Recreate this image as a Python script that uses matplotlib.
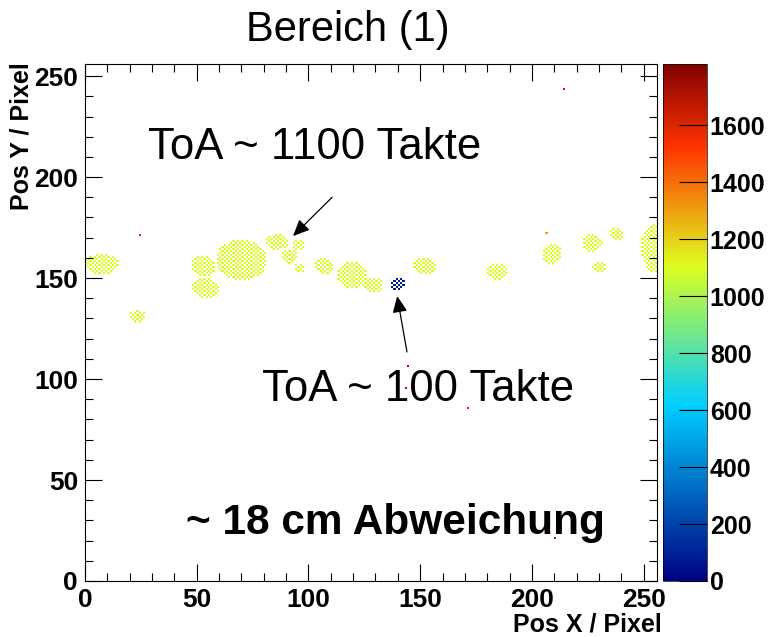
import numpy as np
import matplotlib
matplotlib.use("Agg")
import matplotlib.pyplot as plt
from matplotlib.colors import LinearSegmentedColormap
from matplotlib.ticker import MultipleLocator

plt.rcParams['font.family'] = ['Liberation Sans', 'DejaVu Sans']
plt.rcParams['font.weight'] = 'bold'

# Cluster (Ellipsen) im 256x256 Pixel-Detektor, ToA-Werte in Takten
cluster_x = [7.5, 23.5, 54, 53, 70, 86, 91.5, 95.5, 96, 107, 119.5, 129, 140, 152, 184.5, 209, 227, 238, 230, 255]
cluster_y = [157, 131, 145, 156, 159, 168, 161, 166.5, 155, 156, 151.5, 146.5, 147, 156, 153, 162, 167.5, 172, 155.5, 165]
cluster_rx = [7.5, 3.5, 6, 5.5, 11.5, 5, 4, 2.5, 2.5, 4, 6.5, 4.5, 3, 5, 4.5, 4.5, 4.5, 3.5, 3, 6]
cluster_ry = [5, 3, 5, 5.5, 10, 4, 3.5, 2.5, 2, 4, 6.5, 4, 3, 4.5, 4, 5, 4.5, 3, 2.5, 12]
cluster_toa = [1100, 1100, 1100, 1100, 1100, 1100, 1100, 1100, 1100, 1100, 1100, 1100, 100, 1100, 1100, 1100, 1100, 1100, 1100, 1100]

# Einzelne Treffer
hit_x = [24.5, 214, 144, 143.5, 171.5, 210.5, 206.8]
hit_y = [171, 243.5, 106, 95, 85, 21, 172]
hit_toa = [1600, 1650, 1700, 1700, 1650, 1650, 1300]

# Histogramm aufbauen (Schachbrettmuster innerhalb der Cluster)
n = 256
z = np.full((n, n), np.nan)
ii, jj = np.meshgrid(np.arange(n), np.arange(n))  # ii = x, jj = y
for cx, cy, rx, ry, t in zip(cluster_x, cluster_y, cluster_rx, cluster_ry, cluster_toa):
    inside = ((ii + 0.5 - cx) / rx) ** 2 + ((jj + 0.5 - cy) / ry) ** 2 <= 1
    mask = inside & ((ii + jj) % 2 == 0)
    z[mask] = t
for hx, hy, t in zip(hit_x, hit_y, hit_toa):
    z[int(hy), int(hx)] = t

# ROOT-Palette (kRainBow-aehnlich)
stops = [0.0, 0.34, 0.61, 0.84, 1.0]
red = [0.0, 0.0, 0.87, 1.0, 0.51]
green = [0.0, 0.81, 1.0, 0.20, 0.0]
blue = [0.51, 1.0, 0.12, 0.0, 0.0]
cmap = LinearSegmentedColormap.from_list(
    'root', [(s, (r, g, b)) for s, r, g, b in zip(stops, red, green, blue)], N=255)

W, H = 769, 637
fig = plt.figure(figsize=(W / 100, H / 100), dpi=100)
ax = fig.add_axes([85 / W, 56 / H, 572 / W, 517 / H])
cax = fig.add_axes([663 / W, 56 / H, 44 / W, 517 / H])

edges = np.arange(n + 1)
mesh = ax.pcolormesh(edges, edges, np.ma.masked_invalid(z), cmap=cmap, vmin=0, vmax=1815)
ax.set_xlim(0, 256)
ax.set_ylim(0, 256)

ax.xaxis.set_major_locator(MultipleLocator(50))
ax.xaxis.set_minor_locator(MultipleLocator(10))
ax.yaxis.set_major_locator(MultipleLocator(50))
ax.yaxis.set_minor_locator(MultipleLocator(10))
ax.tick_params(which='both', direction='in', top=True, right=True, width=0.8, labelsize=19, pad=5)
ax.tick_params(which='major', length=12)
ax.tick_params(which='minor', length=6)
for sp in ax.spines.values():
    sp.set_linewidth(0.8)

ax.set_xlabel('Pos X / Pixel', fontsize=18, loc='right', weight='bold')
ax.xaxis.set_label_coords((662 - 85) / 572, (581 - 613) / 517)
ax.set_ylabel('Pos Y / Pixel', fontsize=18, loc='top', weight='bold')
ax.yaxis.set_label_coords((34 - 85) / 572, (581 - 62) / 517)

cb = fig.colorbar(mesh, cax=cax)
cb.set_ticks(np.arange(0, 1601, 200))
cb.outline.set_linewidth(0.5)
cax.tick_params(direction='in', length=20, width=0.8, labelsize=18, pad=2)

fig.text(348 / W, 1 - 30 / H, 'Bereich (1)', ha='center', va='center', fontsize=30, weight='normal')

ax.text(28.2, 214.9, 'ToA ~ 1100 Takte', ha='left', va='center', fontsize=31.5, weight='normal')
ax.text(79.2, 95, 'ToA ~ 100 Takte', ha='left', va='center', fontsize=31.5, weight='normal')
ax.text(45.2, 28.7, '~ 18 cm Abweichung', ha='left', va='center', fontsize=30.5, weight='bold')

arrow = dict(arrowstyle='-|>,head_length=1.0,head_width=0.45', color='black', lw=0.9, shrinkA=0, shrinkB=0)
ax.annotate('', xy=(93.1, 170.8), xytext=(110.6, 190), arrowprops=arrow)
ax.annotate('', xy=(139.7, 141.1), xytext=(144.1, 113.4), arrowprops=arrow)

fig.savefig('out.png', dpi=100)
